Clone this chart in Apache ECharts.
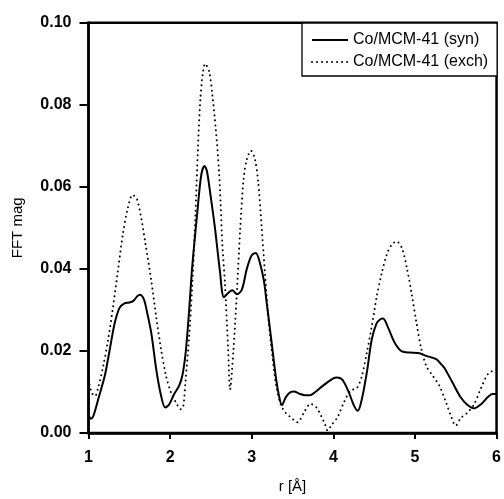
<!DOCTYPE html>
<html>
<head>
<meta charset="utf-8">
<script src="https://cdn.jsdelivr.net/npm/echarts@6/dist/echarts.min.js"></script>
<style>
html,body{margin:0;padding:0;background:#fff;}
#c{width:504px;height:499px;}
</style>
</head>
<body>
<div id="c"></div>
<script>
var seriesNames = ['Co/MCM-41 (syn)', 'Co/MCM-41 (exch)'];
var xTicks = [1, 2, 3, 4, 5, 6];
var yTicks = [0.00, 0.02, 0.04, 0.06, 0.08, 0.10];

var synR = [1.00,1.03,1.06,1.12,1.20,1.26,1.32,1.38,1.44,1.50,1.55,1.60,1.63,1.68,1.72,1.77,1.83,1.89,1.94,1.99,2.05,2.11,2.15,2.19,2.23,2.27,2.33,2.38,2.42,2.45,2.49,2.55,2.61,2.66,2.72,2.76,2.82,2.88,2.94,3.00,3.05,3.10,3.15,3.18,3.24,3.30,3.34,3.37,3.42,3.48,3.52,3.58,3.65,3.71,3.78,3.84,3.93,4.00,4.04,4.11,4.19,4.25,4.30,4.35,4.41,4.47,4.53,4.58,4.61,4.675,4.755,4.84,4.94,5.04,5.14,5.26,5.32,5.36,5.46,5.56,5.645,5.725,5.81,5.89,5.95,6.00];
var synV = [0.0045,0.0035,0.0042,0.0083,0.0140,0.0203,0.0267,0.0305,0.0316,0.0318,0.0322,0.0334,0.0337,0.0325,0.0292,0.0243,0.0155,0.0090,0.0062,0.0070,0.0095,0.0115,0.0140,0.0195,0.0290,0.0403,0.0531,0.0627,0.0651,0.0639,0.0587,0.0499,0.0395,0.0331,0.0343,0.0348,0.0338,0.0350,0.0400,0.0433,0.0439,0.0415,0.0370,0.0323,0.0227,0.0130,0.0085,0.0068,0.0088,0.0100,0.0101,0.0096,0.0092,0.0092,0.0100,0.0110,0.0124,0.0133,0.0135,0.0130,0.0099,0.0068,0.0054,0.0083,0.0147,0.0227,0.0267,0.0278,0.0279,0.0255,0.0219,0.0199,0.0196,0.0195,0.0188,0.0180,0.0168,0.0159,0.0123,0.0087,0.0068,0.0060,0.0070,0.0087,0.0095,0.0095];

var exchR = [1.00,1.04,1.08,1.12,1.18,1.24,1.30,1.36,1.42,1.48,1.54,1.59,1.64,1.70,1.77,1.83,1.89,1.95,2.01,2.07,2.13,2.16,2.19,2.23,2.27,2.31,2.34,2.37,2.40,2.43,2.48,2.52,2.56,2.60,2.62,2.64,2.67,2.71,2.735,2.775,2.815,2.857,2.90,2.94,2.99,3.04,3.08,3.12,3.16,3.20,3.24,3.30,3.36,3.42,3.48,3.56,3.64,3.72,3.79,3.85,3.90,3.93,3.98,4.05,4.13,4.21,4.29,4.35,4.41,4.47,4.53,4.59,4.655,4.715,4.775,4.84,4.90,4.96,5.02,5.08,5.14,5.22,5.30,5.38,5.44,5.50,5.56,5.645,5.725,5.81,5.90,6.00];
var exchV = [0.0130,0.0098,0.0090,0.0112,0.0163,0.0227,0.0307,0.0395,0.0483,0.0547,0.0580,0.0572,0.0531,0.0459,0.0371,0.0283,0.0203,0.0139,0.0099,0.0075,0.0058,0.0063,0.0130,0.0227,0.0355,0.0531,0.0690,0.0812,0.0876,0.0900,0.0880,0.0820,0.0740,0.0636,0.0555,0.0460,0.0370,0.0210,0.0106,0.0200,0.0331,0.0491,0.0619,0.0667,0.0688,0.0667,0.0611,0.0507,0.0395,0.0291,0.0211,0.0115,0.0067,0.0048,0.0038,0.0026,0.0050,0.0071,0.0063,0.0042,0.0020,0.0006,0.0020,0.0038,0.0075,0.0103,0.0110,0.0139,0.0195,0.0259,0.0331,0.0387,0.0435,0.0459,0.0467,0.0451,0.0403,0.0339,0.0267,0.0203,0.0163,0.0139,0.0115,0.0075,0.0042,0.0018,0.0036,0.0050,0.0070,0.0110,0.0145,0.0155];

function pairs(xs, ys){ return xs.map(function(x,i){ return [x, ys[i]]; }); }

var FONT = "'Liberation Sans', Arial, Helvetica, sans-serif";
var chart = echarts.init(document.getElementById('c'), null, {renderer:'canvas'});
chart.setOption({
  animation: false,
  backgroundColor: '#fff',
  grid: {left: 88.5, right: 2.5, top: 22.7, bottom: 61.3, show: true, borderColor: '#000', borderWidth: 2.5, backgroundColor: 'transparent'},
  legend: {
    orient: 'vertical', left: 302, top: 23,
    padding: [9, 9, 6, 9], itemGap: 6, itemWidth: 36, itemHeight: 14,
    backgroundColor: '#fff', borderColor: '#000', borderWidth: 1.3, borderRadius: 0,
    itemStyle: {opacity: 0, borderWidth: 0},
    textStyle: {fontFamily: FONT, fontSize: 16, color: '#000'},
    data: seriesNames
  },
  xAxis: {
    type: 'value', min: xTicks[0], max: xTicks[xTicks.length-1], interval: 1,
    name: 'r [Å]', nameLocation: 'middle', nameGap: 46,
    nameTextStyle: {fontFamily: FONT, fontSize: 15, color: '#000'},
    axisLine: {lineStyle: {color: '#000', width: 2.5}},
    axisTick: {length: 6, lineStyle: {color: '#000', width: 2}},
    axisLabel: {fontFamily: FONT, fontSize: 16, fontWeight: 'bold', color: '#000', margin: 17},
    splitLine: {show: false}
  },
  yAxis: {
    type: 'value', min: yTicks[0], max: yTicks[yTicks.length-1], interval: 0.02,
    name: 'FFT mag', nameLocation: 'middle', nameGap: 63,
    nameTextStyle: {fontFamily: FONT, fontSize: 15, color: '#000'},
    axisLine: {lineStyle: {color: '#000', width: 2.5}},
    axisTick: {length: 9, lineStyle: {color: '#000', width: 2}},
    axisLabel: {fontFamily: FONT, fontSize: 16, fontWeight: 'bold', color: '#000', margin: 17,
      formatter: function(v){ return v.toFixed(2); }},
    splitLine: {show: false}
  },
  series: [
    {name: seriesNames[0], type: 'line', data: pairs(synR, synV), smooth: 0.3, symbol: 'none',
     lineStyle: {color: '#000', width: 2}, itemStyle: {color: '#000'}},
    {name: seriesNames[1], type: 'line', data: pairs(exchR, exchV), smooth: 0.3, symbol: 'none',
     lineStyle: {color: '#000', width: 2, type: [0.01, 5], cap: 'round'}, itemStyle: {color: '#000'}}
  ]
});
</script>
</body>
</html>
